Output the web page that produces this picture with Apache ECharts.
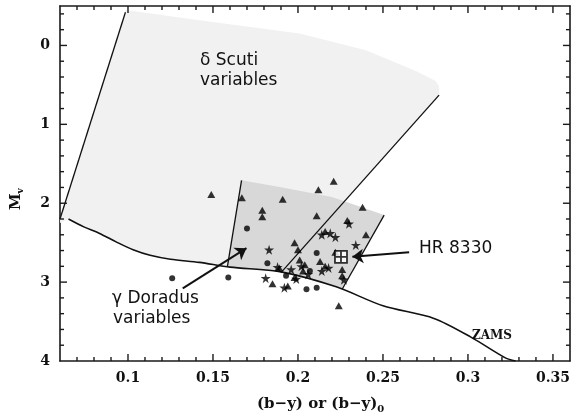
<!DOCTYPE html>
<html><head><meta charset="utf-8">
<script src="https://cdn.jsdelivr.net/npm/echarts@6/dist/echarts.min.js"></script>
<style>html,body{margin:0;padding:0;background:#fff}#c{width:573px;height:419px}</style>
</head><body><div id="c"></div>
<script>
// ---- data ----
const xRange = [0.06, 0.36];
const yRange = [-0.5, 4];
const xMajor = [0.1, 0.15, 0.2, 0.25, 0.3, 0.35];
const xMinor = [0.07,0.08,0.09,0.11,0.12,0.13,0.14,0.16,0.17,0.18,0.19,0.21,0.22,0.23,0.24,0.26,0.27,0.28,0.29,0.31,0.32,0.33,0.34];
const yMajor = [0, 1, 2, 3];
const yMinor = [-0.4,-0.2,0.2,0.4,0.6,0.8,1.2,1.4,1.6,1.8,2.2,2.4,2.6,2.8,3.2,3.4,3.6,3.8];

const zamsX = [0.065,0.074,0.083,0.093,0.103,0.113,0.125,0.142,0.160,0.190,0.2225,0.250,0.280,0.302,0.322,0.328];
const zamsY = [2.20,2.30,2.38,2.49,2.59,2.66,2.71,2.75,2.81,2.87,3.06,3.30,3.46,3.70,3.96,4.00];

const scutiX = [0.0985,0.142,0.201,0.240,0.270,0.281,0.283,0.283,0.190,0.160,0.142,0.125,0.113,0.103,0.093,0.083,0.074,0.065,0.060,0.060];
const scutiY = [-0.45,-0.32,-0.15,0.06,0.33,0.45,0.52,0.63,2.87,2.81,2.75,2.71,2.66,2.59,2.49,2.38,2.30,2.20,2.25,2.20];

const dorX = [0.1668,0.1908,0.220,0.2507,0.226,0.2225,0.190,0.160,0.1585];
const dorY = [1.71,1.80,1.92,2.15,3.09,3.06,2.87,2.81,2.80];

const scutiBlueX = [0.0985, 0.060];
const scutiBlueY = [-0.42, 2.20];
const scutiRedX = [0.283, 0.190];
const scutiRedY = [0.63, 2.88];
const dorBlueX = [0.1668, 0.1585];
const dorBlueY = [1.71, 2.80];
const dorRedX = [0.2507, 0.226];
const dorRedY = [2.15, 3.09];

const triangles = [[0.149,1.89],[0.167,1.93],[0.191,1.95],[0.212,1.83],[0.221,1.72],[0.179,2.09],[0.179,2.17],[0.211,2.16],[0.238,2.05],[0.198,2.50],[0.200,2.59],[0.240,2.40],[0.224,3.30],[0.185,3.02],[0.216,2.36],[0.229,2.22],[0.201,2.72],[0.204,2.78],[0.203,2.86],[0.226,2.84],[0.226,2.92],[0.216,2.80],[0.189,2.82],[0.194,3.05],[0.198,2.94],[0.222,2.62],[0.213,2.74]];
const circles = [[0.170,2.32],[0.182,2.76],[0.159,2.94],[0.205,3.09],[0.211,3.07],[0.211,2.63],[0.193,2.92],[0.126,2.95],[0.207,2.86]];
const stars = [[0.183,2.59],[0.181,2.95],[0.234,2.53],[0.188,2.81],[0.192,3.07],[0.214,2.40],[0.219,2.38],[0.222,2.43],[0.230,2.26],[0.202,2.80],[0.206,2.90],[0.218,2.82],[0.214,2.86],[0.199,2.96],[0.227,2.97],[0.196,2.84]];
const hr8330 = [[0.2253, 2.68]];

const arrowDor = [[0.1322, 3.08], [0.1697, 2.57]];
const arrowHR = [[0.2654, 2.62], [0.232, 2.68]];

// ---- chart ----
const zip = (xs, ys) => xs.map((x, i) => [x, ys[i]]);
const chart = echarts.init(document.getElementById('c'), null, {renderer: 'canvas'});
const axisCol = '#1a1a1a';
const tickFont = {fontFamily: 'DejaVu Serif', fontWeight: 'bold', fontSize: 14, color: '#111'};
const starPath = 'path://M50,0 L61,35 L98,35 L68,57 L79,91 L50,70 L21,91 L32,57 L2,35 L39,35 Z';

function polySeries(pts, color) {
  return {
    type: 'custom', silent: true, z: 1,
    data: pts,
    renderItem: (params, api) => {
      if (params.dataIndex !== 0) return null;
      return {type: 'polygon', shape: {points: pts.map(p => api.coord(p))}, style: {fill: color}};
    }
  };
}
function lineSeries(pts, extra) {
  return Object.assign({
    type: 'line', data: pts, showSymbol: false, symbol: 'none', silent: true, z: 3,
    lineStyle: {color: '#111', width: 1.3}
  }, extra || {});
}

function frameAxis(pos, range, split, labelOpt, inverse) {
  return {
    type: 'value', min: range[0], max: range[1], splitNumber: split, position: pos, inverse: !!inverse,
    axisLine: {show: true, onZero: false, lineStyle: {color: axisCol, width: 1.6}},
    axisTick: {show: false},
    axisLabel: labelOpt ? Object.assign({show: true, margin: 10}, labelOpt, tickFont) : {show: false},
    splitLine: {show: false}
  };
}

const textEls = [
  {type: 'text', z: 100, left: 200, top: 52, silent: true, style: {text: 'δ Scuti', font: '17px "DejaVu Sans"', fill: '#111'}},
  {type: 'text', z: 100, left: 200, top: 72, silent: true, style: {text: 'variables', font: '17px "DejaVu Sans"', fill: '#111'}},
  {type: 'text', z: 100, left: 112, top: 290, silent: true, style: {text: 'γ Doradus', font: '17px "DejaVu Sans"', fill: '#111'}},
  {type: 'text', z: 100, left: 113, top: 310, silent: true, style: {text: 'variables', font: '17px "DejaVu Sans"', fill: '#111'}},
  {type: 'text', z: 100, left: 419, top: 240, silent: true, style: {text: 'HR 8330', font: '17px "DejaVu Sans"', fill: '#111'}},
  {type: 'text', z: 100, left: 472, top: 330, silent: true, style: {text: 'ZAMS', font: 'bold 12px "DejaVu Serif"', fill: '#111'}},
  {type: 'text', z: 100, left: 257, top: 397, silent: true,
   style: {text: '(b−y) or (b−y){s|0}', font: 'bold 15px "DejaVu Serif"', fill: '#111',
           rich: {s: {font: 'bold 10px "DejaVu Serif"', fill: '#111', padding: [10, 0, 0, 0]}}}},
  {type: 'text', z: 100, x: 8, y: 210, rotation: Math.PI / 2, silent: true,
   style: {text: 'M{s|v}', font: 'bold 15px "DejaVu Serif"', fill: '#111',
           rich: {s: {font: 'bold 9px "DejaVu Serif"', fill: '#111', padding: [8, 0, 0, 0]}}}}
];

const option = {
  animation: false,
  backgroundColor: '#fff',
  grid: {left: 60, right: 2, top: 6, bottom: 58, containLabel: false},
  xAxis: [
    frameAxis('bottom', xRange, 6, {showMinLabel: false, showMaxLabel: false}),
    frameAxis('top', xRange, 6, null)
  ],
  yAxis: [
    frameAxis('left', yRange, 5, {showMinLabel: false, showMaxLabel: true}, true),
    frameAxis('right', yRange, 5, null, true)
  ],
  series: [
    polySeries(zip(scutiX, scutiY), '#f1f1f1'),
    polySeries(zip(dorX, dorY), '#d8d8d8'),
    lineSeries(zip(scutiBlueX, scutiBlueY)),
    lineSeries(zip(scutiRedX, scutiRedY)),
    lineSeries(zip(dorBlueX, dorBlueY)),
    lineSeries(zip(dorRedX, dorRedY)),
    lineSeries(zip(zamsX, zamsY), {
      smooth: 0.3,
      lineStyle: {color: '#111', width: 1.6},
      markLine: {
        silent: true, symbol: ['none', 'arrow'], symbolSize: 11,
        label: {show: false},
        lineStyle: {color: '#111', width: 2, type: 'solid'},
        data: [
          [{coord: arrowDor[0]}, {coord: arrowDor[1]}],
          [{coord: arrowHR[0]}, {coord: arrowHR[1]}]
        ]
      }
    }),
    {type: 'scatter', data: triangles, symbol: 'triangle', symbolSize: [8, 7], itemStyle: {color: '#000'}, z: 5, silent: true},
    {type: 'scatter', data: circles, symbol: 'circle', symbolSize: 6, itemStyle: {color: '#000'}, z: 5, silent: true},
    {type: 'scatter', data: stars, symbol: starPath, symbolSize: 10, itemStyle: {color: '#000'}, z: 5, silent: true},
    {type: 'scatter', data: hr8330, symbol: 'path://M0,0H10V10H0Z M5,0V10 M0,5H10', symbolSize: 12,
     itemStyle: {color: '#fff', borderColor: '#000', borderWidth: 1.8}, z: 6, silent: true}
  ],
  graphic: {elements: textEls}
};
chart.setOption(option);

// inward ticks on all four frame sides, positioned through the chart's own axis scales
const toPx = (p) => chart.convertToPixel({gridIndex: 0}, p);
const tickEls = [];
const addTick = (p, dx, dy) => {
  const q = toPx(p);
  if (!q) return;
  tickEls.push({type: 'line', z: 90, silent: true,
    shape: {x1: q[0], y1: q[1], x2: q[0] + dx, y2: q[1] + dy},
    style: {stroke: axisCol, lineWidth: 1.4}});
};
xMajor.forEach(v => { addTick([v, yRange[1]], 0, -7); addTick([v, yRange[0]], 0, 7); });
xMinor.forEach(v => { addTick([v, yRange[1]], 0, -4); addTick([v, yRange[0]], 0, 4); });
yMajor.forEach(v => { addTick([xRange[0], v], 7, 0); addTick([xRange[1], v], -7, 0); });
yMinor.forEach(v => { addTick([xRange[0], v], 4, 0); addTick([xRange[1], v], -4, 0); });
chart.setOption({graphic: {elements: textEls.concat(tickEls)}});
</script>
</body></html>
